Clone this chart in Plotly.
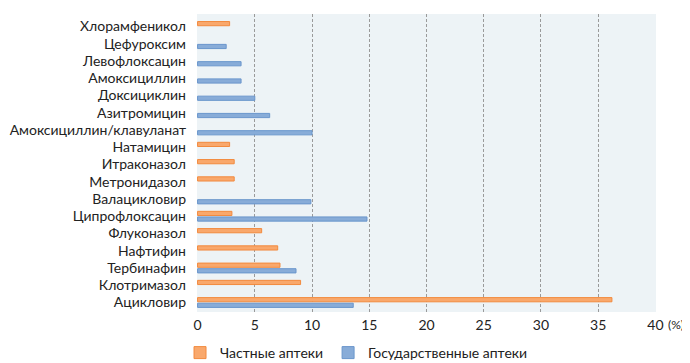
import plotly.graph_objects as go

categories = ["Хлорамфеникол", "Цефуроксим", "Левофлоксацин", "Амоксициллин", "Доксициклин",
              "Азитромицин", "Амоксициллин/клавуланат", "Натамицин", "Итраконазол", "Метронидазол",
              "Валацикловир", "Ципрофлоксацин", "Флуконазол", "Нафтифин", "Тербинафин",
              "Клотримазол", "Ацикловир"]
private_pharm = [2.8, None, None, None, None, None, None, 2.8, 3.2, 3.2,
                 None, 3.0, 5.6, 7.0, 7.2, 9.0, 36.2]
state_pharm = [None, 2.5, 3.8, 3.8, 5.0, 6.3, 10.0, None, None, None,
               9.9, 14.8, None, None, 8.6, None, 13.6]
series_names = ["Частные аптеки", "Государственные аптеки"]
x_ticks = [0, 5, 10, 15, 20, 25, 30, 35, 40]

fig = go.Figure()
fig.add_trace(go.Bar(y=categories, x=private_pharm, orientation="h", name=series_names[0],
                     marker=dict(color="#f9a86c", line=dict(color="#f28a3e", width=1))))
fig.add_trace(go.Bar(y=categories, x=state_pharm, orientation="h", name=series_names[1],
                     marker=dict(color="#88acd8", line=dict(color="#6a96cc", width=1))))

# page body has an 8px margin, so the figure is 682x355 placed at (8, 8)
fig.update_layout(
    width=682, height=355,
    margin=dict(l=189, r=34, t=6, b=51, autoexpand=False),
    paper_bgcolor="white", plot_bgcolor="#edf3f6",
    barmode="group", bargap=0.35, bargroupgap=0.25,
    font=dict(family="Lato, 'Noto Sans', sans-serif", size=14, color="#222222"),
    showlegend=True,
    legend=dict(orientation="h", x=-0.037, xanchor="left", y=-0.1376, yanchor="middle",
                font=dict(size=14, color="#222222"), itemwidth=30, tracegroupgap=0,
                bgcolor="rgba(0,0,0,0)"),
)
fig.update_xaxes(range=[-0.05, 40.05], tickvals=x_ticks, ticktext=[str(v) for v in x_ticks],
                 showgrid=True, gridcolor="#9a9a9a", griddash="3px,2px", gridwidth=1,
                 zeroline=False, showline=False, ticks="", ticklabelstandoff=3,
                 tickfont=dict(size=14, color="#222222"))
fig.update_yaxes(range=[16.55, -0.72], showgrid=False, zeroline=False, ticks="",
                 ticklabelstandoff=10, tickfont=dict(size=14, color="#222222"))
fig.add_annotation(text="(%)", xref="x", yref="paper", x=40, y=-0.0436, xanchor="left",
                   yanchor="middle", xshift=11, showarrow=False, font=dict(size=12, color="#222222"))

fig.write_html("out.html")
